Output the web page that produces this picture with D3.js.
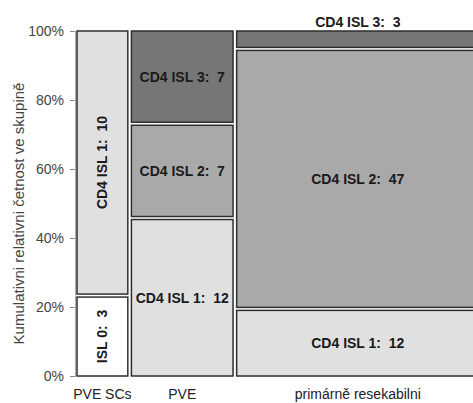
<!DOCTYPE html>
<html>
<head>
<meta charset="utf-8">
<script src="https://cdn.jsdelivr.net/npm/d3@7"></script>
<style>
  html, body { margin: 0; padding: 0; background: #fff; }
  svg { display: block; font-family: "Liberation Sans", Arial, sans-serif; }
</style>
</head>
<body>
<svg id="chart" width="473" height="403"></svg>
<script>
// ---- data ----
const groups = ["PVE SCs", "PVE", "primárně resekabilni"];
const levels = ["ISL 0", "CD4 ISL 1", "CD4 ISL 2", "CD4 ISL 3"];
const countsPVESCs = [3, 10, 0, 0];
const countsPVE = [0, 12, 7, 7];
const countsPrimary = [0, 12, 47, 3];
const levelColors = ["#ffffff", "#e0e0e0", "#a9a9a9", "#767676"];
const yTicks = [0, 0.2, 0.4, 0.6, 0.8, 1.0];
const yTitle = "Kumulativni relativni četnost ve skupině";

const counts = [countsPVESCs, countsPVE, countsPrimary];

// ---- layout ----
const svg = d3.select("#chart");
const plotLeft = 77, plotRight = 479, plotTop = 31, plotBottom = 376;
const gapX = 3.6, gapY = 3;

const totals = counts.map(c => d3.sum(c));
const grand = d3.sum(totals);
const usableW = (plotRight - plotLeft) - gapX * (groups.length - 1);
const xUnit = d3.scaleLinear().domain([0, grand]).range([0, usableW]);

let cum = 0;
const groupBoxes = groups.map((g, i) => {
  const x0 = plotLeft + xUnit(cum) + gapX * i;
  const w = xUnit(totals[i]);
  cum += totals[i];
  return { name: g, x0, w, cx: x0 + w / 2 };
});

const y = d3.scaleLinear().domain([0, 1]).range([plotBottom, plotTop]);

// ---- axis ----
const axis = d3.axisLeft(y)
  .tickValues(yTicks)
  .tickFormat(d3.format(".0%"))
  .tickSize(5)
  .tickPadding(6);
const ax = svg.append("g").attr("transform", `translate(75,0)`).call(axis);
ax.select(".domain").attr("stroke", "#aaa");
ax.selectAll(".tick line").attr("stroke", "#888");
ax.selectAll(".tick text").attr("fill", "#444").attr("font-size", 14)
  .attr("font-family", "Liberation Sans, Arial, sans-serif");

svg.append("text")
  .attr("transform", `translate(18,${(plotTop + plotBottom) / 2 + 10}) rotate(-90)`)
  .attr("text-anchor", "middle")
  .attr("dominant-baseline", "central")
  .attr("font-size", 15)
  .attr("fill", "#444")
  .text(yTitle);

// ---- tiles ----
groupBoxes.forEach((gb, gi) => {
  const c = counts[gi];
  const present = c.map((v, li) => ({ v, li })).filter(d => d.v > 0);
  const availH = (plotBottom - plotTop) - gapY * (present.length - 1);
  const hScale = d3.scaleLinear().domain([0, totals[gi]]).range([0, availH]);
  let base = plotBottom;
  const rotate = gb.w < 70;
  present.forEach((d, k) => {
    const h = hScale(d.v);
    const top = base - h;
    svg.append("rect")
      .attr("x", gb.x0).attr("y", top)
      .attr("width", gb.w).attr("height", h)
      .attr("fill", levelColors[d.li])
      .attr("stroke", "#2e2e2e")
      .attr("stroke-width", 1.5);
    const label = `${levels[d.li]}:\u00a0\u00a0${d.v}`;
    const t = svg.append("text")
      .attr("font-size", 14)
      .attr("font-weight", "bold")
      .attr("fill", "#1a1a1a")
      .attr("text-anchor", "middle")
      .attr("dominant-baseline", "central")
      .text(label);
    if (rotate) {
      t.attr("transform", `translate(${gb.cx},${top + h / 2}) rotate(-90)`);
    } else if (h < 22) {
      t.attr("x", gb.cx).attr("y", top - 9);
    } else {
      t.attr("x", gb.cx).attr("y", top + h / 2);
    }
    base = top - gapY;
  });

  svg.append("text")
    .attr("x", gb.cx)
    .attr("y", 399)
    .attr("text-anchor", "middle")
    .attr("font-size", 14)
    .attr("fill", "#222")
    .text(gb.name);
});
</script>
</body>
</html>
